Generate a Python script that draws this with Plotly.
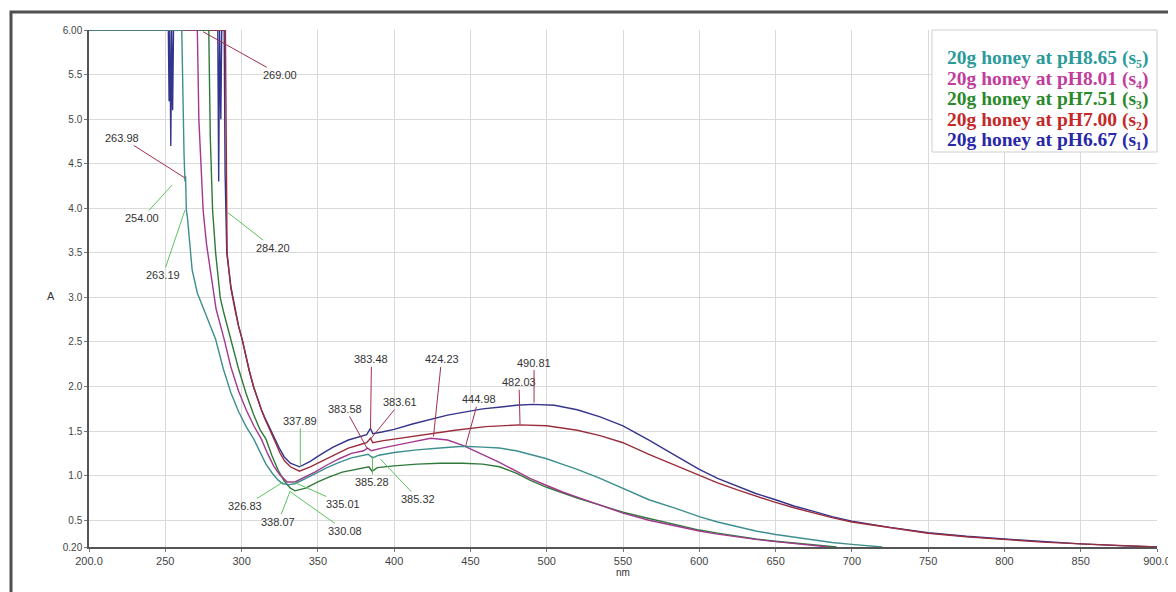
import plotly.graph_objects as go

# ---------------- data ----------------
series_names = [
    "20g honey at pH8.65 (s₅)",
    "20g honey at pH8.01 (s₄)",
    "20g honey at pH7.51 (s₃)",
    "20g honey at pH7.00 (s₂)",
    "20g honey at pH6.67 (s₁)",
]

# s5  pH 8.65
nm_s5 = [200, 260.8, 262.3, 262.9, 263.3, 263.8, 264.5, 266, 267.6, 271, 275, 279, 283, 288, 293, 298, 303, 308,
         312, 316, 320, 324, 327, 331, 335, 340, 348, 356, 364, 372, 380, 383, 385.8, 390, 400, 415, 430, 445,
         458, 469, 480, 489, 500, 510, 520, 535, 550, 567, 585, 600, 612, 625, 637, 650, 662, 675, 687, 700, 710, 720]
A_s5 = [6.0, 6.0, 4.6, 4.3, 4.36, 3.98, 3.9, 3.6, 3.31, 3.05, 2.87, 2.7, 2.53, 2.2, 1.93, 1.72, 1.55, 1.41,
        1.27, 1.13, 1.03, 0.95, 0.91, 0.90, 0.91, 0.95, 1.02, 1.09, 1.15, 1.20, 1.23, 1.24, 1.20, 1.23, 1.26, 1.29, 1.31, 1.33,
        1.32, 1.31, 1.28, 1.24, 1.19, 1.13, 1.07, 0.97, 0.86, 0.73, 0.63, 0.54, 0.48, 0.43, 0.38, 0.34, 0.31, 0.28, 0.25, 0.23, 0.215, 0.2]

# s4  pH 8.01
nm_s4 = [200, 271, 272, 273.5, 274.8, 277, 280, 283.3, 288.6, 293, 298, 303, 308, 313, 317, 321, 325, 330, 335,
         340, 348, 356, 364, 372, 380, 382.6, 385, 392, 400, 412, 424, 435, 445, 455, 469, 480, 489, 500, 510, 520,
         535, 550, 567, 585, 600, 612, 625, 637, 650, 670, 685]
A_s4 = [6.0, 6.0, 5.0, 4.4, 3.98, 3.6, 3.23, 2.87, 2.53, 2.22, 1.95, 1.74, 1.56, 1.41, 1.25, 1.11, 1.01, 0.93, 0.93,
        0.97, 1.04, 1.12, 1.19, 1.25, 1.28, 1.31, 1.28, 1.31, 1.34, 1.38, 1.42, 1.40, 1.34, 1.26, 1.15, 1.05, 0.97, 0.89, 0.82, 0.76,
        0.67, 0.58, 0.50, 0.43, 0.38, 0.345, 0.31, 0.285, 0.26, 0.225, 0.2]

# s3  pH 7.51
nm_s3 = [200, 278.5, 279.5, 281, 283, 286, 288, 293, 298, 303, 308, 312, 316, 320, 324, 328, 332, 335, 342, 350,
         358, 366, 374, 381, 383.5, 385.5, 389, 400, 415, 430, 445, 458, 469, 480, 489, 500, 510, 520, 535, 550,
         567, 585, 600, 612, 625, 637, 650, 670, 690]
A_s3 = [6.0, 6.0, 4.8, 3.98, 3.5, 3.0, 2.85, 2.53, 2.2, 1.92, 1.68, 1.52, 1.41, 1.22, 1.06, 0.94, 0.86, 0.83, 0.86, 0.93,
        0.99, 1.04, 1.07, 1.09, 1.10, 1.05, 1.09, 1.11, 1.13, 1.14, 1.14, 1.13, 1.10, 1.03, 0.95, 0.87, 0.81, 0.75, 0.67, 0.59,
        0.52, 0.45, 0.39, 0.355, 0.32, 0.29, 0.265, 0.23, 0.2]

# s2  pH 7.00
nm_s2 = [200, 289.4, 290.5, 293, 295.6, 298, 300.4, 303, 305, 308, 310, 313, 315, 318, 322, 325, 328, 332, 337.9,
         345, 352, 360, 370, 378, 382, 384.5, 386, 392, 400, 412, 424, 440, 460, 482, 500, 520, 535, 550, 567,
         585, 600, 612, 625, 637, 650, 662, 675, 687, 700, 725, 750, 775, 800, 825, 850, 875, 900]
A_s2 = [6.0, 6.0, 3.5, 3.1, 2.87, 2.68, 2.53, 2.33, 2.18, 1.99, 1.88, 1.74, 1.65, 1.54, 1.38, 1.26, 1.17, 1.10, 1.05,
        1.10, 1.16, 1.23, 1.31, 1.35, 1.37, 1.42, 1.37, 1.39, 1.41, 1.44, 1.47, 1.51, 1.55, 1.57, 1.56, 1.51, 1.45, 1.37, 1.24,
        1.11, 1.00, 0.92, 0.84, 0.77, 0.70, 0.64, 0.58, 0.53, 0.48, 0.415, 0.355, 0.315, 0.285, 0.255, 0.235, 0.215, 0.2]

# s1  pH 6.67
nm_s1 = [200, 252, 252.5, 253, 253.6, 254.2, 254.8, 255.4, 284.4, 285, 285.6, 286.4, 287, 288.6, 289.2, 290.3, 293,
         295.6, 298, 300.4, 303, 305, 308, 310, 313, 315, 318, 322, 325, 328, 332, 338, 345, 352, 360, 370, 378, 382,
         384.5, 386, 392, 400, 412, 424, 435, 445, 458, 470, 480, 490.8, 505, 520, 535, 550, 567, 585, 600, 612, 625,
         637, 650, 662, 675, 687, 700, 725, 750, 775, 800, 825, 850, 875, 900]
A_s1 = [6.0, 6.0, 5.2, 6.0, 4.7, 6.0, 5.1, 6.0, 6.0, 4.3, 6.0, 5.0, 6.0, 6.0, 4.4, 3.5, 3.12,
        2.87, 2.68, 2.53, 2.33, 2.18, 1.99, 1.88, 1.74, 1.66, 1.55, 1.41, 1.30, 1.21, 1.14, 1.10, 1.16, 1.24, 1.32, 1.40, 1.44, 1.46,
        1.53, 1.47, 1.49, 1.52, 1.58, 1.63, 1.68, 1.71, 1.75, 1.77, 1.79, 1.80, 1.79, 1.74, 1.66, 1.56, 1.40, 1.22, 1.07, 0.97, 0.88,
        0.80, 0.73, 0.66, 0.60, 0.54, 0.49, 0.42, 0.36, 0.32, 0.29, 0.26, 0.235, 0.215, 0.2]

# peak / valley picks
ann_text = ["263.98", "269.00", "383.48", "383.61", "383.58", "424.23", "444.98", "482.03", "490.81",
            "254.00", "263.19", "284.20", "326.83", "338.07", "335.01", "330.08", "337.89", "385.28", "385.32"]
ann_kind = ["peak"] * 9 + ["valley"] * 10
ann_nm = [262.9, 274.8, 384.5, 384.5, 382.5, 425.8, 446.8, 482.5, 491.7,
          254.4, 262.9, 291.1, 327.3, 331.9, 333.9, 331.9, 338.5, 385.8, 391.0]
ann_A = [4.34, 5.98, 1.52, 1.41, 1.30, 1.44, 1.33, 1.577, 1.82,
         4.26, 3.98, 3.95, 0.93, 0.83, 0.93, 0.82, 1.10, 1.22, 1.185]

x_tickvals = [200, 250, 300, 350, 400, 450, 500, 550, 600, 650, 700, 750, 800, 850, 900]
x_ticktext = ["200.0", "250", "300", "350", "400", "450", "500", "550", "600", "650", "700", "750", "800", "850", "900.0"]
y_tickvals = [0.2, 0.5, 1.0, 1.5, 2.0, 2.5, 3.0, 3.5, 4.0, 4.5, 5.0, 5.5, 6.0]
y_ticktext = ["0.20", "0.5", "1.0", "1.5", "2.0", "2.5", "3.0", "3.5", "4.0", "4.5", "5.0", "5.5", "6.00"]

# ---------------- styles ----------------
line_colors = ["#3d8f8f", "#a2388f", "#2f7a3a", "#9a2d3c", "#34348c"]
text_colors = ["#2a9a9a", "#c23c9c", "#2a8a2a", "#c42828", "#2828a8"]
ann_offsets = [(-63, -40), (77, 43), (1, -70), (30, -37), (-22, -40), (8, -77), (13, -47), (-1, -42), (0, -40),
               (-30, 33), (-22, 65), (45, 35), (-38, 24), (-12, 31), (50, 22), (55, 39), (0, -46), (0, 26), (38, 40)]
kind_color = {"peak": "#a3304a", "valley": "#5cc25c"}

# the page body has an 8px margin; the figure is sized to fill the rest of the window
OFF = 8
W, H = 1168, 584
ML, MR, MT, MB = 81, 19, 22, 45
PW, PH = W - ML - MR, H - MT - MB


def px_to_paper(xp, yp):
    """page pixel -> paper coordinates"""
    return (xp - OFF - ML) / PW, (H - MB - (yp - OFF)) / PH


fig = go.Figure()
xs = [nm_s5, nm_s4, nm_s3, nm_s2, nm_s1]
ys = [A_s5, A_s4, A_s3, A_s2, A_s1]
order = [4, 3, 2, 1, 0]  # draw s1 first, s5 last (s5 on top of the saturated 6.00 line)
for i in order:
    fig.add_trace(go.Scatter(x=xs[i], y=ys[i], mode="lines", name=series_names[i], showlegend=False,
                             line=dict(color=line_colors[i], width=1.4)))

annotations = []
for t, k, xn, ya, (ax, ay) in zip(ann_text, ann_kind, ann_nm, ann_A, ann_offsets):
    annotations.append(dict(x=xn, y=ya, xref="x", yref="y", text=t, showarrow=True, arrowhead=0,
                            arrowwidth=1, arrowcolor=kind_color[k], ax=ax, ay=ay, standoff=0,
                            font=dict(family="Liberation Sans, Arial, sans-serif", size=11, color="#333333")))

# legend (coloured text in a box)
leg_rows_y = [58, 79, 99, 120, 140]
for name, c, yy in zip(series_names, text_colors, leg_rows_y):
    px, py = px_to_paper(945, yy)
    annotations.append(dict(x=px, y=py, xref="paper", yref="paper", text=name,
                            showarrow=False, xanchor="left", yanchor="middle",
                            font=dict(family="Liberation Serif, Times New Roman, serif", size=19.5,
                                      color=c, weight="bold")))

# axis titles
ax_px, ax_py = px_to_paper(45, 296)
annotations.append(dict(x=ax_px, y=ax_py, xref="paper", yref="paper", text="A", showarrow=False,
                        font=dict(family="Liberation Sans, Arial, sans-serif", size=11, color="#333333")))
nm_px, nm_py = px_to_paper(623, 580)
annotations.append(dict(x=nm_px, y=nm_py, xref="paper", yref="paper", text="nm", showarrow=False,
                        font=dict(family="Liberation Sans, Arial, sans-serif", size=10, color="#333333")))

lx0, ly0 = px_to_paper(932, 152)
fx0, fy1 = px_to_paper(11, 12)
fx1, fy0 = px_to_paper(1182, 600)
shapes = [
    dict(type="rect", xref="paper", yref="paper", x0=lx0, x1=1.0, y0=ly0, y1=1.0,
         fillcolor="white", line=dict(color="#cfcfcf", width=1), layer="above"),
    dict(type="rect", xref="paper", yref="paper", x0=fx0, x1=fx1, y0=fy0, y1=fy1,
         fillcolor="rgba(0,0,0,0)", line=dict(color="#4f4f4f", width=3), layer="above"),
]

fig.update_layout(
    width=W, height=H,
    margin=dict(l=ML, r=MR, t=MT, b=MB, autoexpand=False),
    paper_bgcolor="white", plot_bgcolor="white",
    annotations=annotations, shapes=shapes,
    font=dict(family="Liberation Sans, Arial, sans-serif", size=10, color="#444444"),
)
fig.update_xaxes(range=[200, 900], tickvals=x_tickvals, ticktext=x_ticktext,
                 showgrid=True, gridcolor="#dadada", gridwidth=1, zeroline=False,
                 showline=True, linecolor="#555555", linewidth=1.5,
                 ticks="outside", ticklen=3, tickcolor="#777777", automargin=False,
                 tickfont=dict(size=11, color="#444444"))
fig.update_yaxes(range=[0.2, 6.0], tickvals=y_tickvals, ticktext=y_ticktext,
                 showgrid=True, gridcolor="#dadada", gridwidth=1, zeroline=False,
                 showline=True, linecolor="#555555", linewidth=1.5,
                 ticks="outside", ticklen=3, tickcolor="#777777", automargin=False,
                 tickfont=dict(size=10, color="#444444"))

fig.write_html("out.html")
